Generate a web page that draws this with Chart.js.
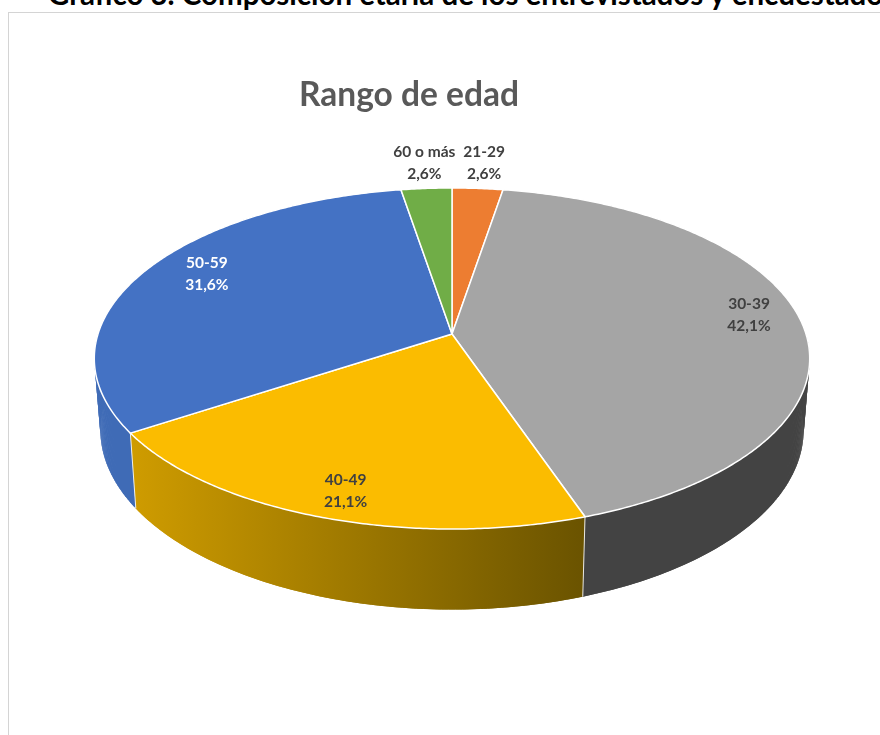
<!DOCTYPE html>
<html lang="es">
<head>
<meta charset="utf-8">
<title>Rango de edad</title>
<script src="https://cdn.jsdelivr.net/npm/chart.js@4"></script>
<style>
  html, body { margin: 0; padding: 0; width: 880px; height: 735px; overflow: hidden; background: #fff; }
  #heading {
    position: absolute; left: 48px; top: -24px; margin: 0; white-space: nowrap;
    font: bold 29.5px Lato, sans-serif; line-height: 36px; color: #000;
  }
  #frame {
    position: absolute; left: 8px; top: 12px; width: 1000px; height: 900px;
    border: 1px solid #d4d4d4; box-sizing: border-box;
  }
  canvas { position: absolute; left: 0; top: 0; }
</style>
</head>
<body>
<h2 id="heading">Gráfico 3. Composición etaria de los entrevistados y encuestados</h2>
<div id="frame"></div>
<canvas id="chart" width="818" height="735"></canvas>
<script>
const chartTitle = 'Rango de edad';
const categories = ['21-29', '30-39', '40-49', '50-59', '60 o más'];
const counts = [1, 16, 8, 12, 1];
const sliceColors = ['#ED7D31', '#A5A5A5', '#FBBC00', '#4472C4', '#70AD47'];
const sideColors = [
    ['#A4541F', '#A4541F'],
    ['#434343', '#434343'],
    ['#CF9C00', '#6A5300'],
    ['#3F6BB6', '#355B9C'],
    ['#4C7A2F', '#4C7A2F']
];
const labelColors = ['#404040', '#404040', '#404040', '#ffffff', '#404040'];

// the flat pie is laid on its side with a perspective divide
const tilt = {
    x: 452,
    k: 0.1437,
    top: { y: 334, a: 354, b: 167 },
    bottom: { y: 404, a: 348, b: 176 }
};
// label spot: radius fraction and a small turn (degrees) from the slice middle
const labelSpots = [[1.21, 0.3], [0.862, -3.3], [0.865, -1.1], [0.826, 4.1], [1.21, 0.4]];

function project(face, angle, r) {
    const u = Math.cos(angle) * r, v = Math.sin(angle) * r;
    const w = 1 - tilt.k * v;
    return { x: tilt.x + face.a * u / w, y: face.y + face.b * v / w };
}

const pie3d = {
    id: 'pie3d',
    beforeDatasetsDraw(chart) {
        const ctx = chart.ctx;
        const arcs = chart.getDatasetMeta(0).data;
        const step = Math.PI / 360;

        // side walls, near half only, each strip overlaps the next so no seams show
        arcs.forEach((arc, i) => {
            const n = Math.max(2, Math.ceil((arc.endAngle - arc.startAngle) / step));
            const da = (arc.endAngle - arc.startAngle) / n;
            const x0 = project(tilt.top, arc.startAngle, 1).x;
            const x1 = project(tilt.top, arc.endAngle, 1).x;
            const grad = ctx.createLinearGradient(Math.min(x0, x1), 0, Math.max(x0, x1), 0);
            grad.addColorStop(0, sideColors[i][0]);
            grad.addColorStop(1, sideColors[i][1]);
            ctx.fillStyle = grad;
            for (let s = 0; s < n; s++) {
                const a = arc.startAngle + s * da;
                if (Math.sin(a) < 0) continue;
                const end = s < n - 1 ? a + 2 * da : a + da;
                const p = [
                    project(tilt.top, a, 1), project(tilt.top, end, 1),
                    project(tilt.bottom, end, 1), project(tilt.bottom, a, 1)
                ];
                ctx.beginPath();
                p.forEach((q, j) => j ? ctx.lineTo(q.x, q.y) : ctx.moveTo(q.x, q.y));
                ctx.closePath();
                ctx.fill();
            }
        });

        // light seams between the walls
        ctx.strokeStyle = 'rgba(255,255,255,0.85)';
        ctx.lineWidth = 1;
        arcs.forEach(arc => {
            if (Math.sin(arc.startAngle) <= 0) return;
            const a = project(tilt.top, arc.startAngle, 1);
            const b = project(tilt.bottom, arc.startAngle, 1);
            ctx.beginPath();
            ctx.moveTo(a.x, a.y);
            ctx.lineTo(b.x, b.y);
            ctx.stroke();
        });

        // top face
        arcs.forEach((arc, i) => {
            const n = Math.max(2, Math.ceil((arc.endAngle - arc.startAngle) / step));
            ctx.beginPath();
            ctx.moveTo(tilt.x, tilt.top.y);
            for (let s = 0; s <= n; s++) {
                const q = project(tilt.top, arc.startAngle + (arc.endAngle - arc.startAngle) * s / n, 1);
                ctx.lineTo(q.x, q.y);
            }
            ctx.closePath();
            ctx.fillStyle = sliceColors[i];
            ctx.fill();
            ctx.strokeStyle = '#ffffff';
            ctx.lineWidth = 1.5;
            ctx.lineJoin = 'round';
            ctx.stroke();
        });

        // data labels
        const total = counts.reduce((a, b) => a + b, 0);
        ctx.font = 'bold 15.5px Lato, sans-serif';
        ctx.textAlign = 'center';
        ctx.textBaseline = 'middle';
        arcs.forEach((arc, i) => {
            const mid = (arc.startAngle + arc.endAngle) / 2 + labelSpots[i][1] * Math.PI / 180;
            const q = project(tilt.top, mid, labelSpots[i][0]);
            const pct = (counts[i] / total * 100).toFixed(1).replace('.', ',') + '%';
            ctx.fillStyle = labelColors[i];
            ctx.fillText(categories[i], q.x, q.y - 10);
            ctx.fillText(pct, q.x, q.y + 12);
        });
        return false;
    }
};

new Chart(document.getElementById('chart'), {
    type: 'pie',
    data: {
        labels: categories,
        datasets: [{ data: counts, backgroundColor: sliceColors }]
    },
    plugins: [pie3d],
    options: {
        responsive: false,
        animation: false,
        rotation: 0,
        plugins: {
            legend: { display: false },
            tooltip: { enabled: false },
            title: {
                display: true,
                text: chartTitle,
                color: '#595959',
                font: { family: 'Lato, sans-serif', size: 33.5, weight: 'bold' },
                padding: { top: 75, bottom: 10 }
            }
        }
    }
});
</script>
</body>
</html>
